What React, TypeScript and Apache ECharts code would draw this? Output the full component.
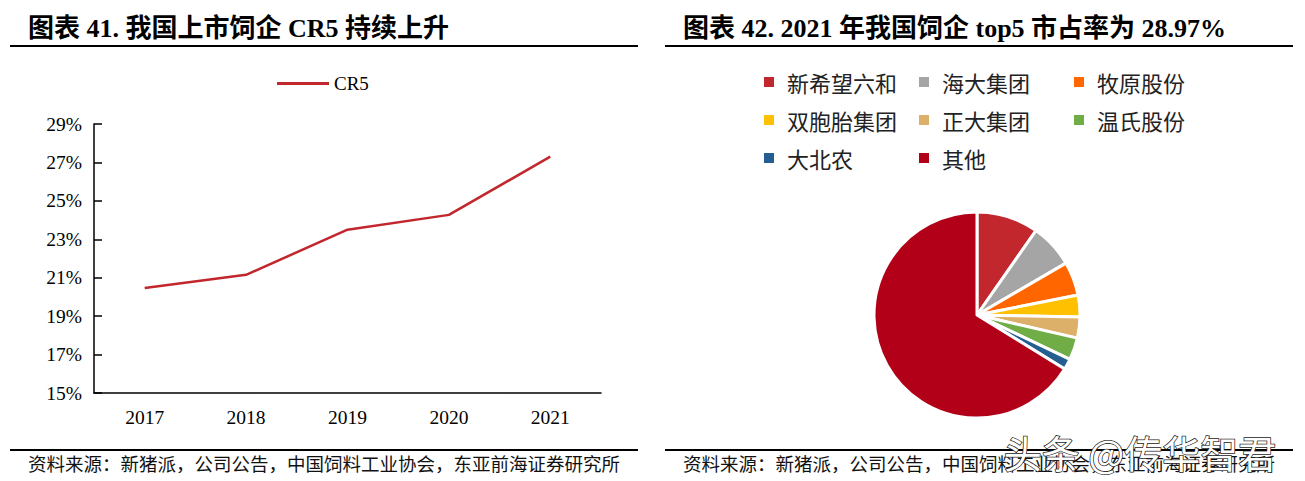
import React, { useEffect, useRef } from "react";
import * as echarts from "echarts";

const years = ["2017", "2018", "2019", "2020", "2021"];
const cr5 = [20.47, 21.15, 23.5, 24.27, 27.3];
const yTicks = { min: 15, max: 29, interval: 2 };

const companies = ["新希望六和", "海大集团", "牧原股份", "双胞胎集团", "正大集团", "温氏股份", "大北农", "其他"];
const shares = [9.7, 6.9, 5.3, 3.4, 3.3, 3.5, 1.7, 66.2];
const pieColors = ["#C1272D", "#A5A5A5", "#FF6600", "#FFC000", "#DCB068", "#70AD47", "#255E91", "#B30019"];

const legendCols = [
  ["新希望六和", "双胞胎集团", "大北农"],
  ["海大集团", "正大集团", "其他"],
  ["牧原股份", "温氏股份"],
];
const legendLefts = [762, 917, 1072];

const title1 = "图表 41. 我国上市饲企 CR5 持续上升";
const title2 = "图表 42. 2021 年我国饲企 top5 市占率为 28.97%";
const source = "资料来源：新猪派，公司公告，中国饲料工业协会，东亚前海证券研究所";
const watermark = "头条 @传华智君";

const SERIF = "'Liberation Serif', 'Noto Sans CJK SC'";
const CJK = "'Noto Sans CJK SC', 'Liberation Serif'";

export default function App() {
  const ref = useRef<HTMLDivElement>(null);
  useEffect(() => {
    if (!ref.current) return;
    const chart = echarts.init(ref.current, null, { renderer: "svg" });
    const legends: any[] = [
      {
        data: ["CR5"],
        left: 277,
        top: 74,
        padding: 0,
        icon: "rect",
        itemWidth: 52,
        itemHeight: 3,
        textStyle: { fontFamily: SERIF, fontSize: 19, color: "#000" },
      },
    ];
    legendCols.forEach((col, i) => {
      legends.push({
        data: col.map((name) => ({ name, itemStyle: { color: pieColors[companies.indexOf(name)] } })),
        orient: "vertical",
        left: legendLefts[i],
        top: 71,
        padding: 0,
        icon: "rect",
        itemWidth: 12,
        itemHeight: 12,
        itemGap: 16,
        textStyle: { fontFamily: CJK, fontSize: 22, color: "#222", padding: [0, 0, 0, 7] },
      });
    });

    chart.setOption({
      animation: false,
      legend: legends,
      grid: { left: 94, right: 704, top: 124, bottom: 88, containLabel: false },
      xAxis: {
        type: "category",
        data: years,
        boundaryGap: true,
        axisLine: { lineStyle: { color: "#000", width: 1.5 } },
        axisTick: { show: false },
        axisLabel: { fontFamily: SERIF, fontSize: 19.5, color: "#000", margin: 15 },
      },
      yAxis: {
        type: "value",
        min: yTicks.min,
        max: yTicks.max,
        interval: yTicks.interval,
        axisLine: { show: true, lineStyle: { color: "#000", width: 1.5 } },
        axisTick: { show: true, inside: true, length: 8, lineStyle: { color: "#000", width: 1.5 } },
        splitLine: { show: false },
        axisLabel: { fontFamily: SERIF, fontSize: 19.5, color: "#000", margin: 12, formatter: "{value}%" },
      },
      series: [
        {
          name: "CR5",
          type: "line",
          data: cr5,
          symbol: "none",
          lineStyle: { color: "#C1272D", width: 2.5 },
          itemStyle: { color: "#C1272D" },
        },
        {
          name: "share",
          type: "pie",
          center: [977, 315],
          radius: [0, 103],
          startAngle: 90,
          clockwise: true,
          label: { show: false },
          labelLine: { show: false },
          itemStyle: { borderColor: "#fff", borderWidth: 3 },
          data: companies.map((name, i) => ({ name, value: shares[i], itemStyle: { color: pieColors[i] } })),
        },
      ],
      graphic: [
        { type: "text", left: 28, top: 15, style: { text: title1, font: `bold 26px ${SERIF}`, fill: "#000" } },
        { type: "text", left: 683, top: 15, style: { text: title2, font: `bold 26px ${SERIF}`, fill: "#000" } },
        { type: "line", shape: { x1: 10, y1: 46, x2: 638, y2: 46 }, style: { stroke: "#000", lineWidth: 2 } },
        { type: "line", shape: { x1: 665, y1: 46, x2: 1293, y2: 46 }, style: { stroke: "#000", lineWidth: 2 } },
        { type: "line", shape: { x1: 10, y1: 450, x2: 638, y2: 450 }, style: { stroke: "#000", lineWidth: 2 } },
        { type: "line", shape: { x1: 665, y1: 450, x2: 1293, y2: 450 }, style: { stroke: "#000", lineWidth: 2 } },
        { type: "text", left: 28, top: 454, style: { text: source, font: `18.5px ${CJK}`, fill: "#111" } },
        { type: "text", left: 683, top: 454, style: { text: source, font: `18.5px ${CJK}`, fill: "#111" } },
        {
          type: "text",
          left: 1003,
          top: 432,
          z: 100,
          style: { text: watermark, font: `38px ${CJK}`, fill: "#fff", stroke: "#222", lineWidth: 1.5 },
        },
      ],
    });
    return () => chart.dispose();
  }, []);
  return (
    <div
      ref={ref}
      style={{ position: "absolute", left: 0, top: 0, width: 1305, height: 481, background: "#fff" }}
    />
  );
}
